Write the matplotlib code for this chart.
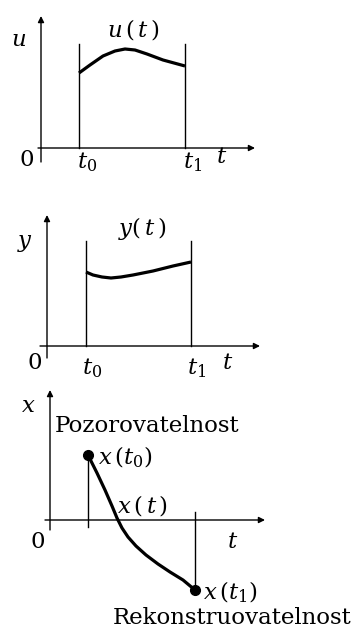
import numpy as np
import matplotlib
matplotlib.use("Agg")
import matplotlib.pyplot as plt

plt.rcParams['font.family'] = ['DejaVu Serif']
plt.rcParams['mathtext.fontset'] = 'dejavuserif'

# data in local units (time to the right, value upward, origin at axis crossing)
t_bounds = [38, 144]

u_t = [38, 49, 62, 74, 84, 94, 106, 122, 144]
u_val = [75, 83, 92, 97, 99, 98, 94, 88, 82]

y_t = [39, 46, 55, 64, 74, 86, 106, 126, 144]
y_val = [74, 71, 69, 68, 69, 71, 75, 80, 84]

x_t = [38, 47, 55, 62, 67, 72, 78, 86, 96, 108, 120, 133, 145]
x_val = [65, 47, 30, 14, 2, -8, -17, -26, -35, -44, -52, -60, -70]

AX_LW = 1.0
CURVE_LW = 2.3


def draw_axes(ax, ox, oy, left, right, top, bottom):
    # x axis with arrow
    ax.annotate('', xy=(ox + right, oy), xytext=(ox - left, oy),
                arrowprops=dict(arrowstyle='-|>', lw=AX_LW, color='black',
                                mutation_scale=9, shrinkA=0, shrinkB=0))
    # y axis with arrow
    ax.annotate('', xy=(ox, oy - top), xytext=(ox, oy + bottom),
                arrowprops=dict(arrowstyle='-|>', lw=AX_LW, color='black',
                                mutation_scale=9, shrinkA=0, shrinkB=0))


fig = plt.figure(figsize=(3.61, 6.34), dpi=100)
ax = fig.add_axes([0, 0, 1, 1])
ax.set_xlim(0, 361)
ax.set_ylim(634, 0)
ax.axis('off')

fs = 16.5

# ---- panel 1: u(t)
ox, oy = 41, 148
draw_axes(ax, ox, oy, 3, 214, 132, 14)
for tb in t_bounds:
    ax.plot([ox + tb, ox + tb], [oy, oy - 104], color='black', lw=AX_LW)
ax.plot(ox + np.array(u_t), oy - np.array(u_val), color='black', lw=CURVE_LW,
        solid_capstyle='butt', solid_joinstyle='round')
ax.text(19, 40, r'$u$', fontsize=fs, ha='center', va='center')
ax.text(133, 30, r'$u\,(\,t\,)$', fontsize=fs, ha='center', va='center')
ax.text(27, 160, '0', fontsize=fs, ha='center', va='center')
ax.text(ox + t_bounds[0] - 2, 162, r'$t_{0}$', fontsize=fs, ha='left', va='center')
ax.text(ox + t_bounds[1] - 2, 162, r'$t_{1}$', fontsize=fs, ha='left', va='center')
ax.text(222, 157, r'$t$', fontsize=fs, ha='center', va='center')

# ---- panel 2: y(t)
ox, oy = 47, 346
draw_axes(ax, ox, oy, 7, 213, 131, 12)
for tb in [y_t[0], y_t[-1]]:
    ax.plot([ox + tb, ox + tb], [oy, oy - 105], color='black', lw=AX_LW)
ax.plot(ox + np.array(y_t), oy - np.array(y_val), color='black', lw=CURVE_LW,
        solid_capstyle='butt', solid_joinstyle='round')
ax.text(25, 243, r'$y$', fontsize=fs, ha='center', va='center')
ax.text(142, 228, r'$y(\,t\,)$', fontsize=fs, ha='center', va='center')
ax.text(35, 363, '0', fontsize=fs, ha='center', va='center')
ax.text(ox + y_t[0] - 4, 368, r'$t_{0}$', fontsize=fs, ha='left', va='center')
ax.text(ox + y_t[-1] - 4, 368, r'$t_{1}$', fontsize=fs, ha='left', va='center')
ax.text(228, 363, r'$t$', fontsize=fs, ha='center', va='center')

# ---- panel 3: x(t)
ox, oy = 50, 520
draw_axes(ax, ox, oy, 5, 215, 130, 10)
ax.plot([ox + x_t[0], ox + x_t[0]], [oy - x_val[0], oy + 7], color='black', lw=AX_LW)
ax.plot([ox + x_t[-1], ox + x_t[-1]], [oy - 8, oy - x_val[-1]], color='black', lw=AX_LW)
ax.plot(ox + np.array(x_t), oy - np.array(x_val), color='black', lw=CURVE_LW,
        solid_joinstyle='round')
ax.plot([ox + x_t[0], ox + x_t[-1]], [oy - x_val[0], oy - x_val[-1]], 'o',
        color='black', markersize=7)
ax.text(28, 406, r'$x$', fontsize=fs, ha='center', va='center')
ax.text(55, 426, 'Pozorovatelnost', fontsize=fs, ha='left', va='center')
ax.text(98, 457, r'$x\,(t_{0})$', fontsize=fs, ha='left', va='center')
ax.text(117, 505, r'$x\,(\,t\,)$', fontsize=fs, ha='left', va='center')
ax.text(38, 542, '0', fontsize=fs, ha='center', va='center')
ax.text(233, 542, r'$t$', fontsize=fs, ha='center', va='center')
ax.text(203, 592, r'$x\,(t_{1})$', fontsize=fs, ha='left', va='center')
ax.text(113, 618, 'Rekonstruovatelnost', fontsize=fs, ha='left', va='center')

fig.savefig('out.png', dpi=100)
